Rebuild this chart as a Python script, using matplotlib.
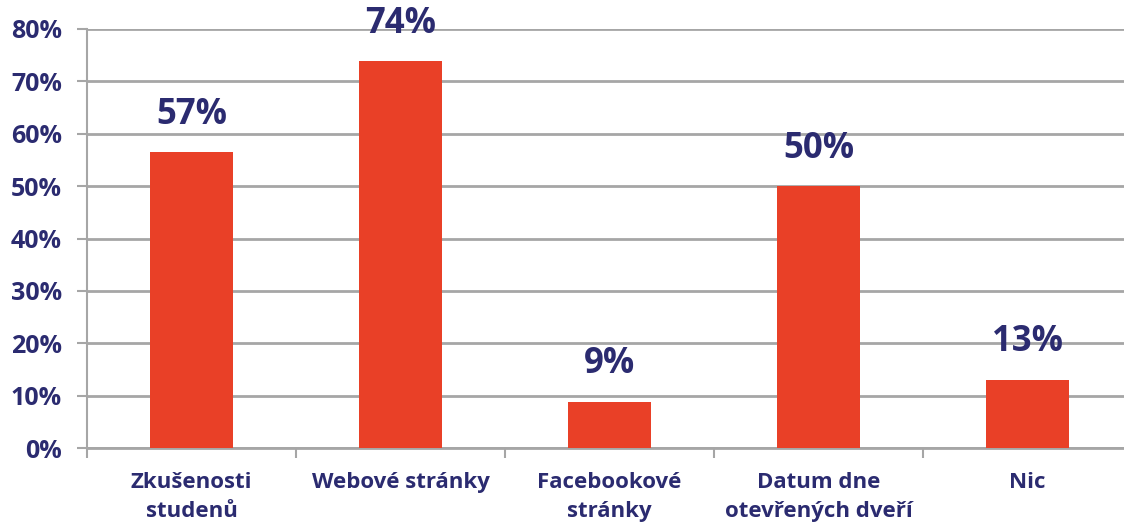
import numpy as np
import matplotlib.pyplot as plt
from matplotlib.ticker import FixedLocator, NullFormatter

# data
categories = ['Zkušenosti\nstudenů', 'Webové stránky', 'Facebookové\nstránky',
              'Datum dne\notevřených dveří', 'Nic']
values = [56.5, 73.9, 8.8, 50.0, 13.0]
value_labels = ['57%', '74%', '9%', '50%', '13%']
yticks = [0, 10, 20, 30, 40, 50, 60, 70, 80]

navy = '#2B2B70'
red = '#E94027'
grid = '#A6A6A6'

plt.rcParams['font.family'] = ['Open Sans', 'DejaVu Sans']

fig = plt.figure(figsize=(11.24, 5.26), dpi=100)
ax = fig.add_axes([87/1124, 78/526, 1045/1124, 419/526])

x = np.arange(len(categories))
ax.bar(x, values, width=0.4, color=red, zorder=3)

for xi, v, lab in zip(x, values, value_labels):
    ax.annotate(lab, (xi, v), xytext=(0, 14), textcoords='offset points',
                ha='center', va='bottom', fontsize=25, fontweight='bold',
                color=navy, zorder=4)

ax.set_xlim(-0.5, len(categories) - 0.5)
ax.set_ylim(0, 80)
ax.set_yticks(yticks)
ax.set_yticklabels([f'{t}%' for t in yticks])
ax.yaxis.grid(True, color=grid, linewidth=2)
ax.set_axisbelow(True)

ax.set_xticks(x)
ax.set_xticklabels(categories)
ax.xaxis.set_minor_locator(FixedLocator(np.arange(len(categories)) - 0.5))
ax.xaxis.set_minor_formatter(NullFormatter())
ax.tick_params(axis='x', which='major', length=0, pad=17)
ax.tick_params(axis='x', which='minor', length=7, width=1.5, color=grid)
ax.tick_params(axis='y', length=7, width=1.5, color=grid, pad=11)

for lab in ax.get_xticklabels():
    lab.set_fontsize(16)
    lab.set_fontweight('bold')
    lab.set_color(navy)
    lab.set_linespacing(1.5)
for lab in ax.get_yticklabels():
    lab.set_fontsize(18)
    lab.set_fontweight('bold')
    lab.set_color(navy)

for s in ['top', 'right']:
    ax.spines[s].set_visible(False)
ax.spines['left'].set_color(grid)
ax.spines['left'].set_linewidth(1.5)
ax.spines['bottom'].set_color(grid)
ax.spines['bottom'].set_linewidth(2)

fig.savefig('out.png', dpi=100)
